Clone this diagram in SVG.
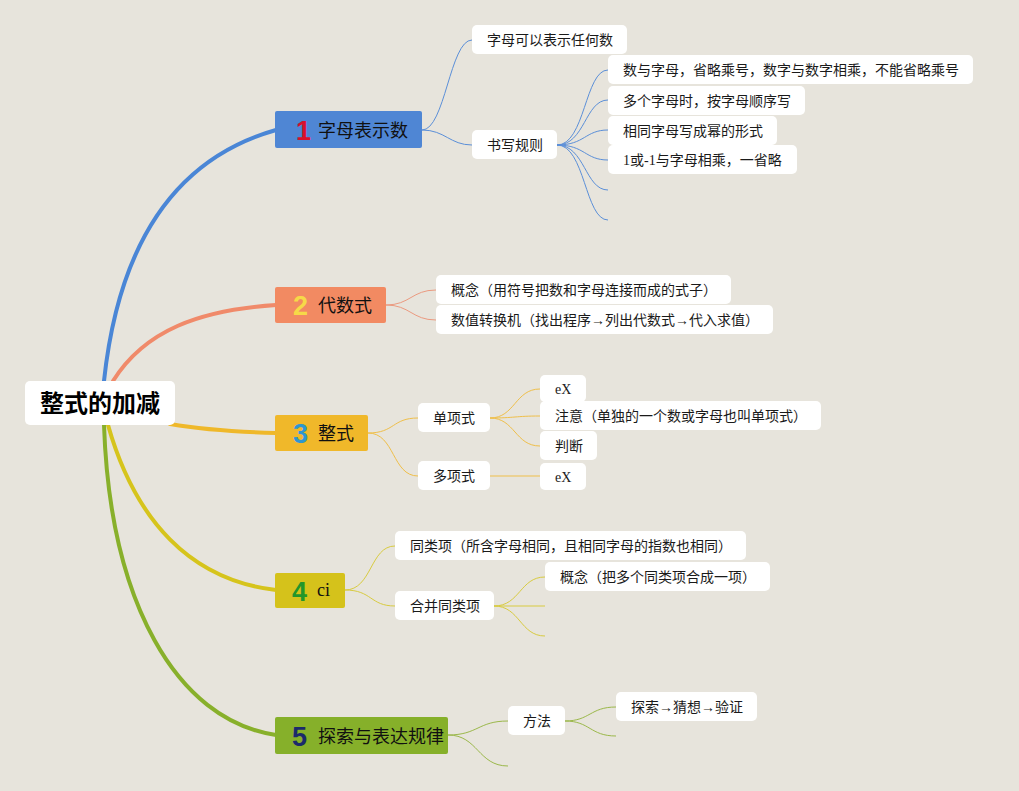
<svg xmlns="http://www.w3.org/2000/svg" width="1019" height="791" viewBox="0 0 1019 791">
<defs>
<style>
.leaf rect{fill:#fff;}
.leaf text{font-family:"Liberation Serif","Noto Sans CJK SC",serif;font-size:14px;fill:#1a1a1a;}
.br text.lbl{font-family:"Noto Sans CJK SC",sans-serif;font-size:18px;fill:#111;}
.br text.num{font-family:"Liberation Sans","Noto Sans",sans-serif;font-size:27px;font-weight:bold;}
.thick{fill:none;stroke-width:4;stroke-linecap:round;}
.thin{fill:none;stroke-width:1;}
</style>
</defs>
<rect width="1019" height="791" fill="#e7e4dc"/>
<g id="connectors">
<path class="thick" stroke="#4a86d6" d="M104,381 C118,250 170,160 276,130"/>
<path class="thick" stroke="#f08a6a" d="M113,381 C145,330 200,310 276,305"/>
<path class="thick" stroke="#efb82a" d="M170,424 C205,430 240,432 276,433"/>
<path class="thick" stroke="#d6c41c" d="M108,425 C135,520 190,580 276,590"/>
<path class="thick" stroke="#88b02b" d="M104,425 C110,600 175,720 276,735"/>
<g stroke="#5b8fd8" class="thin">
<path d="M422,130 C445,130 450,40 472,40"/>
<path d="M422,130 C445,130 450,145 472,145"/>
<path d="M557,145 C585,145 585,70 608,70"/>
<path d="M557,145 C585,145 585,100 608,100"/>
<path d="M557,145 C585,145 585,130 608,130"/>
<path d="M557,145 C585,145 585,160 608,160"/>
<path d="M557,145 C585,145 585,190 608,190"/>
<path d="M557,145 C585,145 585,220 608,220"/>
</g>
<g stroke="#eb9a80" class="thin">
<path d="M386,305 C410,305 412,290 436,290"/>
<path d="M386,305 C410,305 412,320 436,320"/>
</g>
<g stroke="#efbf4a" class="thin">
<path d="M368,433 C395,433 392,418 418,418"/>
<path d="M368,433 C395,433 392,476 418,476"/>
<path d="M490,418 C515,418 515,389 540,389"/>
<path d="M490,418 C515,418 515,416 540,416"/>
<path d="M490,418 C515,418 515,446 540,446"/>
<path d="M490,476 L540,476"/>
</g>
<g stroke="#d8cb40" class="thin">
<path d="M345,590 C372,590 370,546 395,546"/>
<path d="M345,590 C372,590 370,606 395,606"/>
<path d="M494,606 C520,606 520,577 545,577"/>
<path d="M494,606 L545,606"/>
<path d="M494,606 C520,606 520,636 545,636"/>
</g>
<g stroke="#9bb84a" class="thin">
<path d="M448,735 C478,735 478,721 508,721"/>
<path d="M448,735 C478,735 478,766 508,766"/>
<path d="M565,721 C590,721 590,707 616,707"/>
<path d="M565,721 C590,721 590,736 616,736"/>
</g>
</g>
<g id="root">
<rect x="25" y="381" width="150" height="44" rx="5" fill="#fff"/>
<text x="100" y="412" text-anchor="middle" font-family="Noto Sans CJK SC, sans-serif" font-size="24" font-weight="bold" fill="#000">整式的加减</text>
</g>
<g id="b1" class="br">
<rect x="275" y="111" width="147" height="37" rx="2" fill="#4f86d4"/>
<text class="num" x="296" y="140" fill="#d8102c">1</text>
<text class="lbl" x="318" y="137">字母表示数</text>
</g>
<g id="b2" class="br">
<rect x="275" y="287" width="111" height="36" rx="2" fill="#f28a62"/>
<text class="num" x="293" y="315" fill="#f6d948">2</text>
<text class="lbl" x="318" y="312">代数式</text>
</g>
<g id="b3" class="br">
<rect x="275" y="415" width="93" height="36" rx="2" fill="#f0b82a"/>
<text class="num" x="293" y="443" fill="#2e96d0">3</text>
<text class="lbl" x="318" y="440">整式</text>
</g>
<g id="b4" class="br">
<rect x="275" y="573" width="70" height="35" rx="2" fill="#d5c21b"/>
<text class="num" x="292" y="601" fill="#23962a">4</text>
<text x="317" y="596" font-family="Liberation Serif, serif" font-size="18" fill="#111">ci</text>
</g>
<g id="b5" class="br">
<rect x="275" y="717" width="173" height="37" rx="2" fill="#86b02a"/>
<text class="num" x="292" y="746" fill="#1b2a6b">5</text>
<text class="lbl" x="318" y="743">探索与表达规律</text>
</g>
<g id="n1a" class="leaf"><rect x="472" y="25" width="155" height="29" rx="5"/><text x="487" y="45">字母可以表示任何数</text></g>
<g id="n1b" class="leaf"><rect x="472" y="130" width="85" height="29" rx="5"/><text x="487" y="150">书写规则</text></g>
<g id="n1b1" class="leaf"><rect x="608" y="55" width="365" height="29" rx="5"/><text x="623" y="75">数与字母，省略乘号，数字与数字相乘，不能省略乘号</text></g>
<g id="n1b2" class="leaf"><rect x="608" y="86" width="197" height="29" rx="5"/><text x="623" y="106">多个字母时，按字母顺序写</text></g>
<g id="n1b3" class="leaf"><rect x="608" y="116" width="169" height="29" rx="5"/><text x="623" y="136">相同字母写成幂的形式</text></g>
<g id="n1b4" class="leaf"><rect x="608" y="145" width="189" height="29" rx="5"/><text x="623" y="165">1或-1与字母相乘，一省略</text></g>
<g id="n2a" class="leaf"><rect x="436" y="275" width="295" height="29" rx="5"/><text x="451" y="295">概念（用符号把数和字母连接而成的式子）</text></g>
<g id="n2b" class="leaf"><rect x="436" y="305" width="337" height="29" rx="5"/><text x="451" y="325">数值转换机（找出程序→列出代数式→代入求值）</text></g>
<g id="n3a" class="leaf"><rect x="418" y="403" width="72" height="29" rx="5"/><text x="433" y="423">单项式</text></g>
<g id="n3b" class="leaf"><rect x="418" y="461" width="72" height="29" rx="5"/><text x="433" y="481">多项式</text></g>
<g id="n3a1" class="leaf"><rect x="540" y="375" width="46" height="27" rx="5"/><text x="555" y="394">eX</text></g>
<g id="n3a2" class="leaf"><rect x="540" y="401" width="281" height="29" rx="5"/><text x="555" y="421">注意（单独的一个数或字母也叫单项式）</text></g>
<g id="n3a3" class="leaf"><rect x="540" y="431" width="57" height="29" rx="5"/><text x="555" y="451">判断</text></g>
<g id="n3b1" class="leaf"><rect x="540" y="463" width="46" height="27" rx="5"/><text x="555" y="482">eX</text></g>
<g id="n4a" class="leaf"><rect x="395" y="531" width="351" height="29" rx="5"/><text x="410" y="551">同类项（所含字母相同，且相同字母的指数也相同）</text></g>
<g id="n4b" class="leaf"><rect x="395" y="591" width="99" height="29" rx="5"/><text x="410" y="611">合并同类项</text></g>
<g id="n4b1" class="leaf"><rect x="545" y="562" width="225" height="29" rx="5"/><text x="560" y="582">概念（把多个同类项合成一项）</text></g>
<g id="n5a" class="leaf"><rect x="508" y="706" width="57" height="29" rx="5"/><text x="523" y="726">方法</text></g>
<g id="n5a1" class="leaf"><rect x="616" y="692" width="141" height="29" rx="5"/><text x="631" y="712">探索→猜想→验证</text></g>
</svg>
